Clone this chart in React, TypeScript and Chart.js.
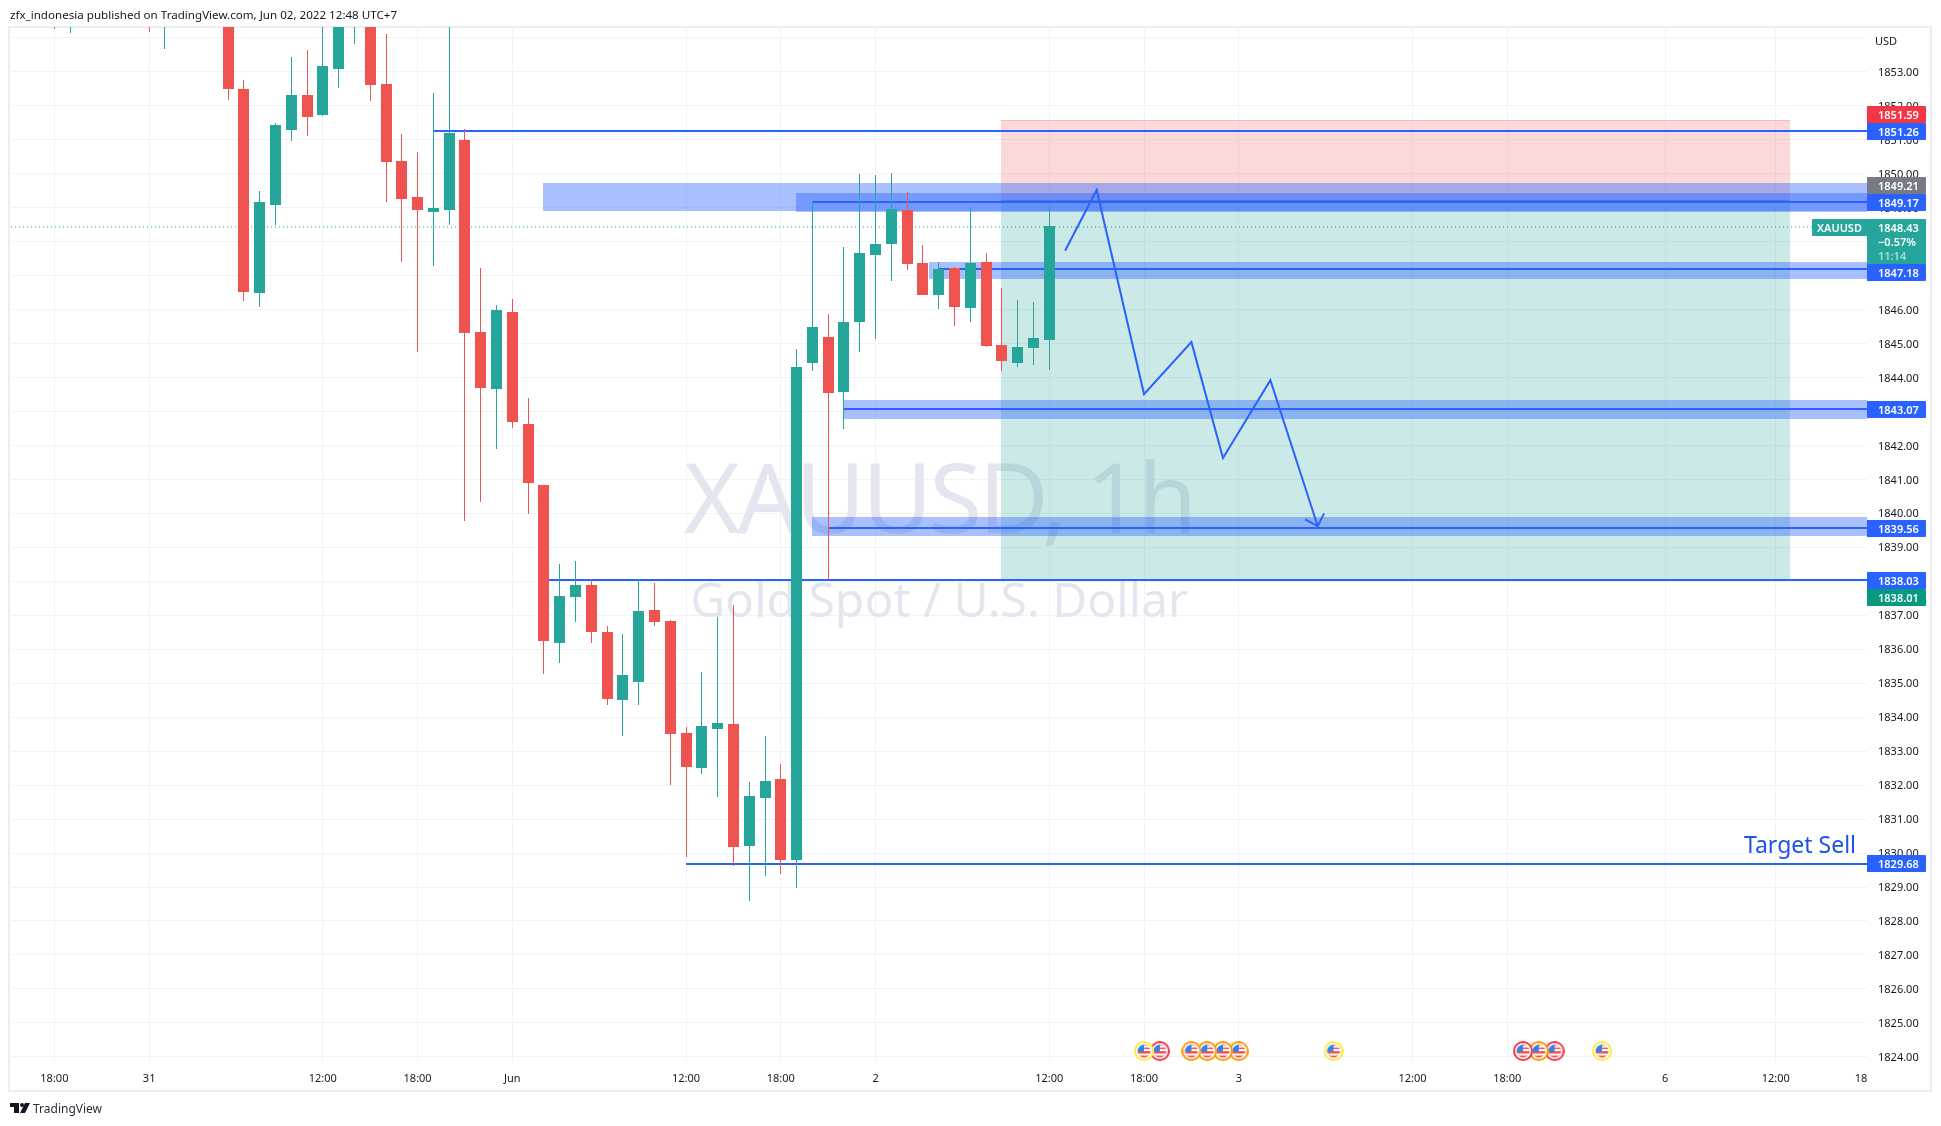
import React, { useEffect, useRef } from "react";
import { Chart, registerables } from "chart.js";

Chart.register(...registerables);

const opens: (number | null)[] = [1855.2,1854.6,null,null,null,null,1855.3,1854.4,null,null,null,1854.9,1852.5,1846.5,1849.09,1851.27,1852.3,1851.74,1853.09,1854.5,1854.9,1852.65,1850.36,1849.3,1848.86,1848.92,1851.0,1845.33,1843.65,1845.94,1842.62,1840.82,1836.18,1837.53,1837.88,1836.5,1834.5,1835.03,1837.15,1836.82,1833.53,1832.5,1833.65,1833.79,1830.21,1831.62,1832.18,1829.79,1844.43,1845.2,1843.58,1845.64,1847.61,1847.93,1848.93,1847.37,1846.43,1847.23,1846.05,1847.4,1844.96,1844.43,1844.87,1845.11];
const highs: (number | null)[] = [1855.5,1855.4,null,null,null,null,1855.6,1855.2,null,null,null,1855.3,1852.77,1849.48,1851.5,1853.42,1853.65,1854.6,1855,1855.2,1855.3,1854.12,1851.18,1850.65,1852.36,1854.6,1851.3,1847.21,1846.12,1846.3,1843.39,1840.82,1838.5,1838.59,1838.06,1836.68,1836.44,1838.06,1837.94,1836.85,1833.71,1835.32,1836.94,1837.29,1832.09,1833.44,1832.62,1844.84,1849.2,1845.87,1847.84,1849.99,1849.96,1850.02,1849.46,1847.9,1847.4,1847.25,1849.02,1847.67,1846.64,1846.28,1846.22,1849.05];
const lows: (number | null)[] = [1854.27,1854.15,null,null,null,null,1854.18,1853.68,null,null,null,1852.18,1846.24,1846.06,1848.48,1850.95,1851.12,1851.71,1852.53,1853.83,1852.15,1849.15,1847.39,1844.74,1847.27,1848.48,1839.76,1840.32,1841.88,1842.5,1839.97,1835.26,1835.59,1836.79,1836.18,1834.35,1833.44,1834.35,1836.68,1832.0,1829.88,1832.32,1831.65,1829.62,1828.59,1829.32,1829.38,1828.97,1844.2,1838.06,1842.47,1844.75,1845.14,1846.84,1847.17,1846.43,1846.02,1845.52,1845.64,1844.9,1844.2,1844.31,1844.38,1844.23];
const closes: (number | null)[] = [1854.6,1855.1,null,null,null,null,1854.7,1854.9,null,null,null,1852.48,1846.53,1849.15,1851.42,1852.3,1851.68,1853.18,1854.7,1854.9,1852.62,1850.33,1849.24,1848.92,1848.98,1851.21,1845.3,1843.68,1846.0,1842.68,1840.88,1836.24,1837.56,1837.88,1836.5,1834.53,1835.24,1837.12,1836.79,1833.5,1832.53,1833.74,1833.82,1830.18,1831.68,1832.12,1829.79,1844.31,1845.49,1843.55,1845.64,1847.67,1847.93,1848.96,1847.34,1846.43,1847.2,1846.08,1847.37,1844.93,1844.49,1844.9,1845.17,1848.46];

const xTickIndexes = [0, 6, 17, 23, 29, 40, 46, 52, 63, 69, 75, 86, 92, 102, 109, 114.4];
const xTickLabels = ["18:00", "31", "12:00", "18:00", "Jun", "12:00", "18:00", "2", "12:00", "18:00", "3", "12:00", "18:00", "6", "12:00", "18"];
const yTickValues = [1854,1853,1852,1851,1850,1849,1848,1847,1846,1845,1844,1843,1842,1841,1840,1839,1838,1837,1836,1835,1834,1833,1832,1831,1830,1829,1828,1827,1826,1825,1824];

const xMin = -2.747;
const xMax = 114.78;
const yMin = 1823.82;
const yMax = 1854.316;

const lastPrice = 1848.43;

const levelStarts = [24, 48, 56, 50, 49, 31, 40];
const levelPrices = [1851.26, 1849.17, 1847.18, 1843.07, 1839.56, 1838.03, 1829.68];

const zoneStarts = [31, 47, 55.4, 50, 48];
const zoneHighs = [1849.72, 1849.43, 1847.4, 1843.34, 1839.88];
const zoneLows = [1848.9, 1848.88, 1846.9, 1842.77, 1839.32];

const boxStart = 60;
const boxEnd = 109.95;
const boxStop = 1851.59;
const boxEntry = 1849.21;
const boxTarget = 1838.01;

const pathX = [64, 66, 69, 72, 74, 77, 80];
const pathY = [1847.73, 1849.52, 1843.51, 1845.04, 1841.63, 1843.92, 1839.62];
const arrowX = [79.2, 80, 80.4];
const arrowY = [1839.82, 1839.62, 1840.0];

const eventX = [69, 70, 72, 73, 74, 75, 81, 93, 94, 95, 98];
const eventRings = ["#ffeb3b", "#f23645", "#ff9800", "#ff9800", "#ff9800", "#ff9800", "#ffeb3b", "#f23645", "#ff9800", "#f23645", "#ffeb3b"];
const eventY = 1824.17;

const tagTexts = ["1851.59", "1851.26", "1849.21", "1849.17", "1847.18", "1843.07", "1839.56", "1838.03", "1838.01", "1829.68"];
const tagColors = ["#f23645", "#2962ff", "#787b86", "#2962ff", "#2962ff", "#2962ff", "#2962ff", "#2962ff", "#089981", "#2962ff"];
const tagTops = [106, 123, 177, 194, 264, 401, 520, 572, 589, 855];

const UP = "#26a69a";
const DOWN = "#ef5350";
const BLUE = "#2962ff";
const GRID = "#f0f3fa";
const FONT = '"Noto Sans", sans-serif';

function flag(ring: string) {
  const c = document.createElement("canvas");
  c.width = 20;
  c.height = 20;
  const g = c.getContext("2d")!;
  g.beginPath();
  g.arc(10, 10, 9, 0, Math.PI * 2);
  g.fillStyle = "#fff";
  g.fill();
  g.strokeStyle = ring;
  g.lineWidth = 2;
  g.stroke();
  g.save();
  g.beginPath();
  g.arc(10, 10, 6.5, 0, Math.PI * 2);
  g.clip();
  g.fillStyle = "#ef5350";
  g.fillRect(0, 10, 20, 2.5);
  g.fillRect(0, 14.5, 20, 3);
  g.fillRect(9, 3, 9, 1.5);
  g.fillRect(9, 6.5, 9, 1.5);
  g.fillStyle = "#2f86e8";
  g.fillRect(2, 2, 8, 8.5);
  g.restore();
  return c;
}

const paperPlugin = {
  id: "paper",
  afterDatasetsUpdate(chart: any) {
    chart.data.datasets.forEach((d: any, i: number) => {
      if (d.type === "bar") {
        chart.getDatasetMeta(i).data.forEach((el: any) => {
          el.x = Math.floor(el.x) + 0.5;
          el.y = Math.round(el.y);
          el.base = Math.round(el.base);
        });
      } else if (String(d.label).startsWith("level")) {
        chart.getDatasetMeta(i).data.forEach((el: any) => {
          el.y = Math.round(el.y);
        });
      }
    });
  },
  beforeDraw(chart: any) {
    const c = chart.ctx;
    ["x", "y"].forEach((k) => {
      chart.scales[k].getLabelItems(chart.chartArea).forEach((it: any) => {
        if (!it.nudged) {
          it.textOffset += k === "x" ? 2 : 1;
          it.nudged = true;
        }
      });
    });
    c.save();
    c.fillStyle = "#ffffff";
    c.fillRect(0, 0, 1941, 1126);
    c.strokeStyle = "#eceef4";
    c.lineWidth = 2;
    c.strokeRect(9, 27, 1922, 1064);
    c.fillStyle = "#131722";
    c.textBaseline = "middle";
    c.textAlign = "left";
    c.font = `11.6px ${FONT}`;
    c.fillText("zfx_indonesia published on TradingView.com, Jun 02, 2022 12:48 UTC+7", 10, 16);
    c.font = `12px ${FONT}`;
    c.fillStyle = "#2a2e39";
    c.fillText("TradingView", 33, 1110);
    c.fillStyle = "#131722";
    c.fillRect(10, 1103, 9, 4);
    c.fillRect(14, 1103, 5, 10);
    c.beginPath();
    c.arc(22, 1105, 2, 0, Math.PI * 2);
    c.fill();
    c.beginPath();
    c.moveTo(25, 1103);
    c.lineTo(30, 1103);
    c.lineTo(25, 1113);
    c.lineTo(20, 1113);
    c.fill();
    c.restore();
  },
  beforeDatasetsDraw(chart: any) {
    const c = chart.ctx;
    const { x, y } = chart.scales;
    const a = chart.chartArea;
    c.save();
    c.beginPath();
    c.rect(a.left, a.top, a.right - a.left, a.bottom - a.top);
    c.clip();
    c.textAlign = "center";
    c.textBaseline = "middle";
    c.fillStyle = "#e3e6ee";
    c.font = `96px ${FONT}`;
    (c as any).letterSpacing = "-3.2px";
    c.fillText("XAUUSD, 1h", (a.left + a.right) / 2, 506);
    (c as any).letterSpacing = "0px";
    c.font = `48px ${FONT}`;
    c.fillText("Gold Spot / U.S. Dollar", (a.left + a.right) / 2, 603);

    const bx0 = Math.floor(x.getPixelForValue(boxStart));
    const bx1 = Math.floor(x.getPixelForValue(boxEnd));
    const ys = Math.round(y.getPixelForValue(boxStop));
    const ye = Math.round(y.getPixelForValue(boxEntry));
    const yt = Math.round(y.getPixelForValue(boxTarget));
    c.fillStyle = "rgba(239,83,80,0.22)";
    c.fillRect(bx0, ys, bx1 - bx0, ye - ys);
    c.fillRect(bx0, ys, bx1 - bx0, 1);
    c.fillStyle = "rgba(38,166,154,0.24)";
    c.fillRect(bx0, ye, bx1 - bx0, yt - ye);
    c.fillStyle = "rgba(120,123,134,0.7)";
    c.fillRect(bx0, ye, bx1 - bx0, 1);

    c.fillStyle = "rgba(41,98,255,0.4)";
    zoneStarts.forEach((s, i) => {
      const left = Math.floor(x.getPixelForValue(s));
      const top = Math.round(y.getPixelForValue(zoneHighs[i]));
      const bottom = Math.round(y.getPixelForValue(zoneLows[i]));
      c.fillRect(left, top, a.right - left, bottom - top);
    });
    c.restore();
  },
  afterDraw(chart: any) {
    const c = chart.ctx;
    c.save();
    c.textBaseline = "middle";
    c.textAlign = "left";

    c.fillStyle = "#131722";
    c.font = `11px ${FONT}`;
    c.fillText("USD", 1875, 42);

    c.fillStyle = UP;
    c.beginPath();
    c.roundRect(1812, 219, 55, 17, 1);
    c.fill();
    c.fillStyle = "#fff";
    c.font = `600 11px ${FONT}`;
    c.fillText("XAUUSD", 1817, 229);

    c.fillStyle = UP;
    c.fillRect(1867, 219, 59, 45);
    c.fillStyle = "#fff";
    c.fillText("1848.43", 1878, 229);
    c.fillText("\u22120.57%", 1878, 243);
    c.fillStyle = "rgba(255,255,255,0.6)";
    c.fillText("11:14", 1878, 257);

    tagTexts.forEach((t, i) => {
      c.fillStyle = tagColors[i];
      c.beginPath();
      c.roundRect(1867, tagTops[i], 59, 17, [0, 1, 1, 0]);
      c.fill();
      c.fillStyle = "#fff";
      c.fillText(t, 1878, tagTops[i] + 10);
    });

    c.fillStyle = "#1e53e5";
    c.font = `23px ${FONT}`;
    c.textAlign = "right";
    c.fillText("Target Sell", 1856, 846);
    c.restore();
  },
};

export default function App() {
  const ref = useRef<HTMLCanvasElement | null>(null);
  useEffect(() => {
    const idx = opens.map((_, i) => i).filter((i) => opens[i] !== null);
    const color = (i: number) => ((closes[i] as number) >= (opens[i] as number) ? UP : DOWN);
    const lineBase = {
      type: "line" as const,
      order: 5,
      borderColor: BLUE,
      borderWidth: 2,
      pointRadius: 0,
      tension: 0,
      parsing: false as const,
    };
    const datasets: any[] = [
      {
        ...lineBase,
        label: "last price",
        borderColor: UP,
        borderWidth: 1,
        borderDash: [1, 3],
        order: 6,
        data: [{ x: xMin, y: lastPrice }, { x: xMax, y: lastPrice }],
      },
      ...levelPrices.map((p, i) => ({
        ...lineBase,
        label: `level ${p}`,
        data: [{ x: levelStarts[i], y: p }, { x: xMax, y: p }],
      })),
      {
        type: "bar",
        label: "wick",
        order: 2,
        barThickness: 1,
        grouped: false,
        inflateAmount: 0,
        borderWidth: 0,
        backgroundColor: idx.map(color),
        data: idx.map((i) => ({ x: i, y: [lows[i], highs[i]] })),
      },
      {
        type: "bar",
        label: "body",
        order: 1,
        barThickness: 11,
        grouped: false,
        inflateAmount: 0,
        borderWidth: 0,
        backgroundColor: idx.map(color),
        data: idx.map((i) => ({ x: i, y: [opens[i], closes[i]] })),
      },
      {
        ...lineBase,
        label: "path",
        order: 0,
        data: pathX.map((v, i) => ({ x: v, y: pathY[i] })),
      },
      {
        ...lineBase,
        label: "arrow",
        order: 0,
        data: arrowX.map((v, i) => ({ x: v, y: arrowY[i] })),
      },
      {
        type: "scatter",
        label: "events",
        order: 0,
        pointRadius: 10,
        pointHoverRadius: 10,
        showLine: false,
        pointStyle: eventRings.map((r) => flag(r)).reverse(),
        data: eventX.map((v) => ({ x: v, y: eventY })).reverse(),
      },
    ];
    const chart = new Chart(ref.current!, {
      type: "bar",
      data: { datasets },
      plugins: [paperPlugin as any],
      options: {
        responsive: false,
        animation: false,
        devicePixelRatio: 1,
        layout: { padding: { left: 10, top: 27, right: 0, bottom: 0 } },
        plugins: { legend: { display: false }, tooltip: { enabled: false }, title: { display: false } },
        scales: {
          x: {
            type: "linear",
            min: xMin,
            max: xMax,
            offset: false,
            grid: {
              offset: false,
              color: (ctx: any) => (ctx.tick && ctx.tick.value === 114.4 ? "rgba(0,0,0,0)" : GRID),
              drawTicks: false,
              lineWidth: 1,
            },
            border: { display: false },
            afterBuildTicks: (s: any) => {
              s.ticks = xTickIndexes.map((value) => ({ value }));
            },
            afterFit: (s: any) => {
              s.height = 63;
            },
            ticks: {
              autoSkip: false,
              maxRotation: 0,
              minRotation: 0,
              padding: 7,
              color: "#131722",
              font: { family: '"Noto Sans"', size: 11 },
              callback: (v: any) => xTickLabels[xTickIndexes.indexOf(Number(v))] ?? "",
            },
          },
          y: {
            type: "linear",
            position: "right",
            min: yMin,
            max: yMax,
            grid: { color: GRID, drawTicks: false, lineWidth: 1 },
            border: { display: false },
            afterBuildTicks: (s: any) => {
              s.ticks = yTickValues.map((value) => ({ value }));
            },
            afterFit: (s: any) => {
              s.width = 74;
            },
            ticks: {
              autoSkip: false,
              padding: 11,
              color: "#131722",
              font: { family: '"Noto Sans"', size: 11 },
              callback: (v: any) => (Number(v) === 1854 ? "" : Number(v).toFixed(2)),
            },
          },
        },
      },
    } as any);
    return () => chart.destroy();
  }, []);
  return (
    <canvas
      ref={ref}
      width={1941}
      height={1126}
      style={{ position: "fixed", left: 0, top: 0, width: 1941, height: 1126 }}
    />
  );
}
